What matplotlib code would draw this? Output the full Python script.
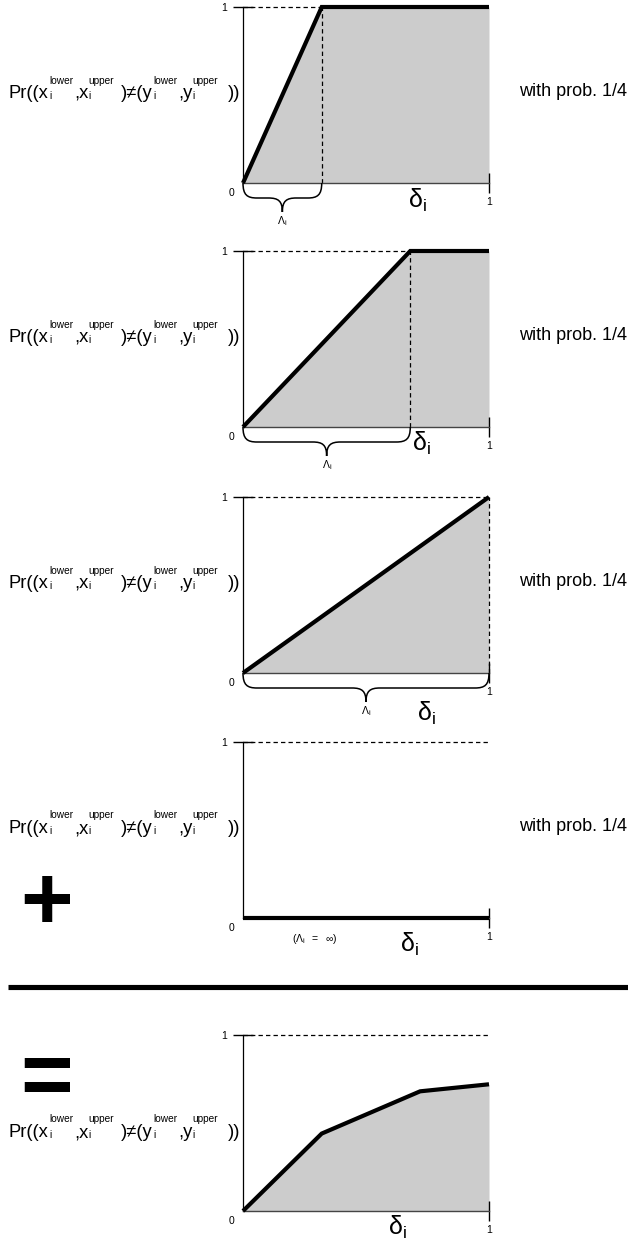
import numpy as np
import matplotlib
matplotlib.use("Agg")
import matplotlib.pyplot as plt
from matplotlib.path import Path
from matplotlib.patches import PathPatch
from matplotlib.lines import Line2D

plt.rcParams.update({
    'font.family': ['Liberation Sans', 'DejaVu Sans'],
    'mathtext.fontset': 'custom',
    'mathtext.rm': 'Liberation Sans',
    'mathtext.it': 'Liberation Sans',
    'mathtext.bf': 'Liberation Sans:bold',
    'mathtext.sf': 'Liberation Sans',
    'mathtext.default': 'regular',
})

# ---------------- data ----------------
delta_ticks = [1]
delta_tick_labels = ['1']
prob_ticks = [1]
prob_tick_labels = ['1']
lambdas = [0.32, 0.68, 1.0, np.inf]
case_x = [[0, 0.32, 1.0], [0, 0.68, 1.0], [0, 1.0], [0, 1.0]]
case_y = [[0, 1, 1], [0, 1, 1], [0, 1], [0, 0]]
case_prob = ['1/4', '1/4', '1/4', '1/4']
sum_x = [0, 0.32, 0.72, 1.0]
sum_y = [0, 0.44, 0.68, 0.72]

# y-label pieces: ('m', main text) / ('s', superscript, subscript) / ('g', gap px)
ylabel_parts = [('m', 'Pr((x'), ('s', 'lower', 'i'), ('m', ',x'),
                ('s', 'upper', 'i'), ('g', 6), ('m', ')≠(y'),
                ('s', 'lower', 'i'), ('m', ',y'), ('s', 'upper', 'i'),
                ('g', 9), ('m', '))')]
xlabel = r'$\delta_i$'
lam_label = r'$\Lambda_i$'
inf_label = r'$(\Lambda_i\ \ =\ \ \infty)$'

# ---------------- layout ----------------
W, H = 628, 1242
fig = plt.figure(figsize=(W / 100, H / 100), dpi=100)
renderer = fig.canvas.get_renderer()
PH = 176.0
AX_L, AX_W = 243, 246
panel_tops = [7, 251, 497, 742, 1035]
ylab_base = [3, 3, 3, 3, 14]            # baseline offset from panel middle (px)
xlab_pos = [(417, 17), (421, 16), (426, 40), (409, 26), (397, 16)]
FILL = '#cccccc'
MAIN_FS, SCRIPT_FS = 13.0, 7.2
LABEL_W = 232.0


def fy(y):
    return 1 - y / H


def tw(s, size):
    t = fig.text(0, 0, s, fontsize=size)
    w = t.get_window_extent(renderer=renderer).width
    t.remove()
    return w


def layout_label():
    items = []
    for p in ylabel_parts:
        if p[0] == 'm':
            items.append(tw(p[1], MAIN_FS) + 0.5)
        elif p[0] == 's':
            items.append(max(tw(p[1], SCRIPT_FS), tw(p[2], SCRIPT_FS)) + 0.5)
        else:
            items.append(float(p[1]))
    total = sum(items)
    return items, LABEL_W / total


LABEL_WIDTHS, LABEL_SCALE = layout_label()


def draw_ylabel(x_right, base):
    x = x_right - LABEL_W
    k = LABEL_SCALE
    for p, w in zip(ylabel_parts, LABEL_WIDTHS):
        if p[0] == 'm':
            fig.text(x / W, fy(base), p[1], fontsize=MAIN_FS * k,
                     ha='left', va='baseline')
        elif p[0] == 's':
            fig.text(x / W, fy(base - 14.5), p[1], fontsize=SCRIPT_FS * k,
                     ha='left', va='baseline')
            fig.text(x / W, fy(base + 1), p[2], fontsize=SCRIPT_FS * k,
                     ha='left', va='baseline')
        x += w * k


def brace(ax, x0, x1):
    d = 15 / PH
    t = 29 / PH
    r = 14 / AX_W
    xm = (x0 + x1) / 2
    verts = [(x0, 0), (x0, -d * 0.8), (x0 + r * 0.3, -d), (x0 + r, -d),
             (xm - r, -d),
             (xm - r * 0.3, -d), (xm, -d - (t - d) * 0.2), (xm, -t),
             (xm, -d - (t - d) * 0.2), (xm + r * 0.3, -d), (xm + r, -d),
             (x1 - r, -d),
             (x1 - r * 0.3, -d), (x1, -d * 0.8), (x1, 0)]
    C = Path.CURVE4
    codes = [Path.MOVETO, C, C, C, Path.LINETO, C, C, C, C, C, C,
             Path.LINETO, C, C, C]
    ax.add_patch(PathPatch(Path(verts, codes), fill=False, lw=1.1,
                           edgecolor='black', clip_on=False, zorder=5))
    ax.text(xm, -38 / PH, lam_label, ha='center', va='center', fontsize=7.5)


def make_panel(i, xs, ys, lam=None, prob=None, fill=True):
    top = panel_tops[i]
    ax = fig.add_axes([AX_L / W, fy(top + PH), AX_W / W, PH / H])
    ax.set_xlim(0, 1)
    ax.set_ylim(0, 1)
    ax.patch.set_alpha(0)
    for s in ['top', 'right']:
        ax.spines[s].set_visible(False)
    ax.spines['left'].set_color('black')
    ax.spines['left'].set_linewidth(0.9)
    ax.spines['bottom'].set_color('#444444')
    ax.spines['bottom'].set_linewidth(1.0)
    ax.set_xticks(delta_ticks, delta_tick_labels)
    ax.set_yticks(prob_ticks, prob_tick_labels)
    ax.tick_params(axis='both', direction='inout', length=14.5, width=1.0,
                   labelsize=7.5, color='black')
    ax.tick_params(axis='x', pad=2.5)
    ax.tick_params(axis='y', pad=4)
    ax.annotate('0', (0, 0), xytext=(-8, -7.5), textcoords='offset points',
                ha='center', va='center', fontsize=7.5)
    if fill:
        ax.fill_between(xs, ys, 0, color=FILL, lw=0, zorder=1)
    ax.plot([0, 1], [1, 1], color='black', lw=0.9, ls=(0, (3.5, 2.5)),
            zorder=2, clip_on=False)
    if lam is not None and np.isfinite(lam):
        ax.plot([lam, lam], [0, 1], color='black', lw=0.9, ls=(0, (3.5, 2.5)),
                zorder=2, clip_on=False)
        brace(ax, 0, lam)
    ax.plot(xs, ys, color='black', lw=3.0, zorder=4, clip_on=False,
            solid_joinstyle='miter', solid_capstyle='butt')
    xl, yo = xlab_pos[i]
    ax.text((xl - AX_L) / AX_W, -yo / PH, xlabel, ha='center', va='center',
            fontsize=18)
    mid = top + PH / 2
    draw_ylabel(241, mid + ylab_base[i])
    if prob is not None:
        fig.text(519 / W, fy(mid + 1), 'with prob. ' + prob, ha='left',
                 va='baseline', fontsize=13)
    return ax


for i in range(4):
    ax = make_panel(i, case_x[i], case_y[i], lam=lambdas[i], prob=case_prob[i],
                    fill=(i < 3))
    if not np.isfinite(lambdas[i]):
        ax.text((315 - AX_L) / AX_W, -21 / PH, inf_label, ha='center',
                va='center', fontsize=7.5)

make_panel(4, sum_x, sum_y)

# plus, separator, equals
fig.text(46.5 / W, fy(929), '+', ha='center', va='baseline', fontsize=65,
         fontweight='bold')
fig.add_artist(Line2D([8 / W, 1.0], [fy(986.5), fy(986.5)], lw=3.7,
                      color='black', solid_capstyle='butt'))
fig.text(46.5 / W, fy(1105), '=', ha='center', va='baseline', fontsize=65,
         fontweight='bold')

fig.savefig('out.png', dpi=100)
